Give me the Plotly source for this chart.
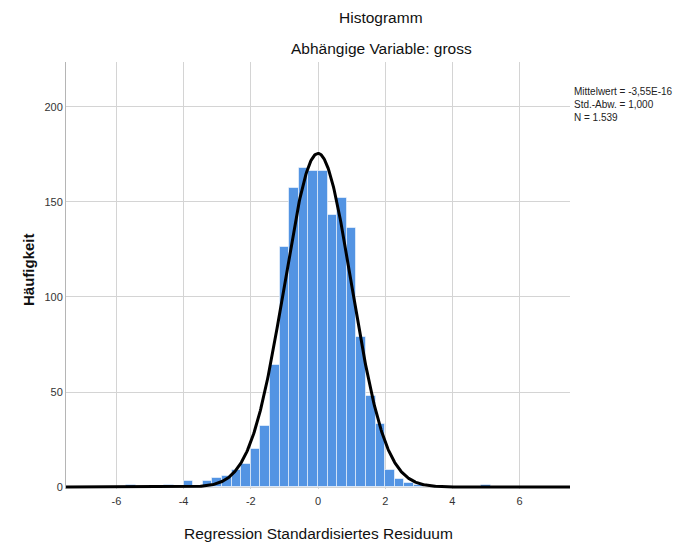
import math
import plotly.graph_objects as go

# ---- data ----
BIN_WIDTH = 2 / 7
bin_index = list(range(-20, 18))  # bin k covers [k*w, (k+1)*w]
counts = [1, 0, 0, 0, 1, 0, 3, 0, 3, 5, 6, 9, 12, 20, 32, 64, 126, 157, 168, 166,
          166, 143, 152, 136, 79, 48, 33, 9, 4, 2, 1, 0, 0, 0, 0, 0, 0, 1]
x_ticks = [-6, -4, -2, 0, 2, 4, 6]
y_ticks = [0, 50, 100, 150, 200]
MEAN = -3.55e-16
SD = 1.0
N = 1539
stats_lines = ["Mittelwert = -3,55E-16", "Std.-Abw. = 1,000", "N = 1.539"]

centers = [(k + 0.5) * BIN_WIDTH for k in bin_index]

# normal curve scaled to the histogram
cx = [-7.6 + i * 0.02 for i in range(761)]
cy = [N * BIN_WIDTH / (SD * math.sqrt(2 * math.pi)) * math.exp(-0.5 * ((v - MEAN) / SD) ** 2) for v in cx]

fig = go.Figure()
fig.add_trace(go.Bar(
    x=centers, y=counts, width=BIN_WIDTH,
    marker=dict(color="#5394E3", line=dict(color="rgba(255,255,255,0.55)", width=1)),
    hoverinfo="x+y", showlegend=False,
))
fig.add_trace(go.Scatter(
    x=cx, y=cy, mode="lines", line=dict(color="black", width=3),
    showlegend=False, hoverinfo="skip",
))

font_main = "Liberation Sans, Arial, sans-serif"
PL, PR, PT, PB = 66, 570, 62, 489
fig.update_layout(
    width=686, height=543,
    margin=dict(l=PL, r=686 - PR, t=PT, b=543 - PB),
    paper_bgcolor="white", plot_bgcolor="white",
    bargap=0,
    font=dict(family=font_main, color="#222"),
    xaxis=dict(
        range=[-7.5, 7.5], tickvals=x_ticks, ticktext=[str(v) for v in x_ticks],
        showgrid=True, gridcolor="#d4d4d4", gridwidth=1, zeroline=False,
        showline=False, ticks="", tickfont=dict(size=11, color="#333"),
        ticklabelstandoff=4, automargin=False,
    ),
    yaxis=dict(
        range=[-1.0, 223.5], tickvals=y_ticks, ticktext=[str(v) for v in y_ticks],
        showgrid=True, gridcolor="#d4d4d4", gridwidth=1, zeroline=False,
        showline=True, linecolor="#b5b5b5", linewidth=1, ticks="",
        tickfont=dict(size=11, color="#333"), automargin=False,
    ),
    annotations=[
        dict(text="Histogramm", xref="paper", yref="paper", x=(381 - PL) / (PR - PL), y=1,
             yshift=PT - 17, showarrow=False, font=dict(size=15.5, color="#111"),
             xanchor="center", yanchor="middle"),
        dict(text="Abhängige Variable: gross", xref="paper", yref="paper",
             x=(381 - PL) / (PR - PL), y=1, yshift=PT - 48, showarrow=False,
             font=dict(size=15.5, color="#111"), xanchor="center", yanchor="middle"),
        dict(text="<br>".join(stats_lines), xref="paper", yref="paper",
             x=1, xshift=2, y=1, yshift=-22, showarrow=False, align="left",
             xanchor="left", yanchor="top",
             font=dict(size=10, color="#222", family="Liberation Sans Narrow, Arial Narrow, sans-serif")),
        dict(text="Regression Standardisiertes Residuum", xref="paper", yref="paper",
             x=0.5, y=0, yshift=-(533 - PB), showarrow=False,
             font=dict(size=15.5, color="#111"), xanchor="center", yanchor="middle"),
        dict(text="<b>Häufigkeit</b>", xref="paper", yref="paper",
             x=0, xshift=-(PL - 28), y=(PB - 270) / (PB - PT), showarrow=False, textangle=-90,
             font=dict(size=15, color="#111"), xanchor="center", yanchor="middle"),
    ],
)

fig.write_html("out.html")
